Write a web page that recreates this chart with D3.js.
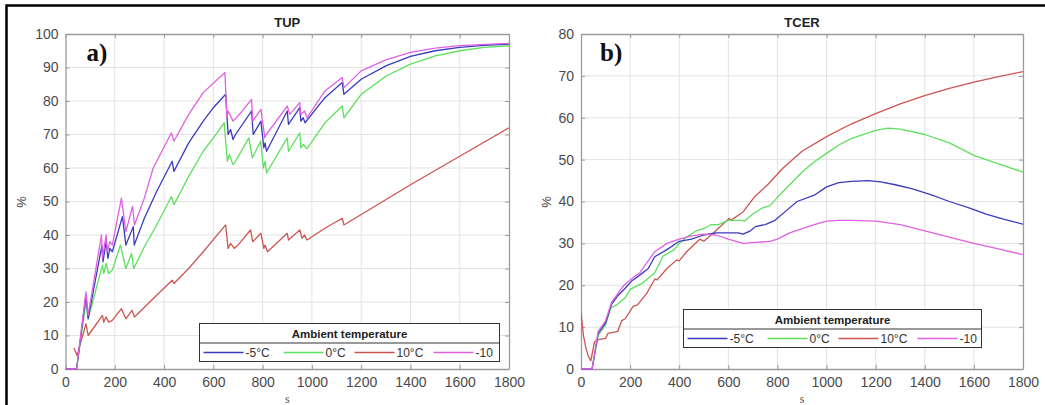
<!DOCTYPE html>
<html>
<head>
<meta charset="utf-8">
<script src="https://cdn.jsdelivr.net/npm/d3@7"></script>
<style>
  body { margin: 0; background: #fff; }
  svg { display: block; }
</style>
</head>
<body>
<script>
// series labels and colours
let seriesNames = ['-5°C', '0°C', '10°C', '-10']
let seriesColors = ['#3b3bbd', '#5ee05e', '#cc5550', '#e060e0']

let xTicks = [0, 200, 400, 600, 800, 1000, 1200, 1400, 1600, 1800]
let tupTicks = [0, 10, 20, 30, 40, 50, 60, 70, 80, 90, 100]
let tcerTicks = [0, 10, 20, 30, 40, 50, 60, 70, 80]

// TUP  [s, %]
let tupM5 = [[0,0],[45,0],[83,22],[92,15],[148,37],[152,32],[165,38],[172,33],[180,36],[190,35],[231,45.5],[245,37],[275,42.5],[279,37],[320,45],[370,53],[433,62],[440,59],[500,67.5],[559,74],[600,78],[650,82],[660,70],[670,71.5],[680,68.5],[690,70],[755,77],[762,70],[793,74],[805,66],[810,67.5],[816,65],[900,77],[905,73],[951,78],[955,74],[965,75],[972,73.5],[1053,81],[1123,85.5],[1130,82],[1200,86.5],[1300,90.5],[1400,93.3],[1500,95],[1600,96],[1700,96.6],[1800,97]]
let tup0 = [[0,0],[45,0],[83,20],[92,15],[150,31],[155,28.5],[165,31.5],[175,28.5],[190,29.5],[223,37],[245,30],[268,34.5],[277,30],[320,36.5],[370,43],[430,51.5],[440,49],[500,57.5],[559,65],[600,69],[644,73.5],[657,62],[665,64],[680,61],[690,62],[744,69],[758,63],[792,68],[803,60],[810,62],[816,58.5],[900,69],[905,65],[951,70.5],[955,66],[965,67],[980,65.8],[1053,73.5],[1123,78.5],[1130,75],[1200,82],[1300,87.4],[1400,91],[1500,93.5],[1600,95],[1700,96],[1800,96.5]]
let tup10 = [[34,6.3],[47,4],[83,13.5],[92,10],[150,16],[155,14],[165,15.5],[175,14],[190,14.5],[227,18],[245,15],[270,17.5],[280,15.5],[370,22],[433,26.5],[440,25.5],[500,30],[559,35],[650,43],[660,36],[670,37.5],[685,36],[700,37],[751,41.5],[760,38],[793,40.5],[805,36],[810,37],[820,35],[900,40.5],[905,38.5],[951,41.5],[960,39],[970,40],[980,38.5],[1053,42],[1123,45],[1130,43],[1400,55],[1600,63.5],[1800,72]]
let tupM10 = [[0,0],[45,0],[83,23],[92,16],[146,40],[150,33],[165,40],[170,35],[180,38],[190,37],[227,51],[245,41],[272,48.5],[280,43],[320,51],[356,60],[430,70.5],[440,68],[500,76],[559,82.5],[647,88.5],[655,75],[660,77],[680,74],[700,75.5],[755,80.5],[760,74],[793,77.5],[809,69],[815,70],[900,78.5],[910,76],[951,79.5],[955,76],[970,77],[980,75],[1053,83],[1123,87],[1130,84],[1200,89],[1300,92.3],[1400,94.5],[1500,95.8],[1600,96.5],[1700,96.9],[1800,97.2]]

// TCER  [s, %]
let tcerM5 = [[0,0],[45,0],[70,8.5],[100,11],[125,15.5],[150,17.5],[175,19],[206,21],[230,22],[274,24],[300,26.8],[350,28.5],[400,30.5],[450,31],[500,32],[550,32.5],[600,32.5],[640,32.5],[660,32.2],[690,33],[710,34],[750,34.5],[790,35.5],[840,38],[880,40],[950,41.5],[1000,43.5],[1050,44.5],[1100,44.8],[1170,45],[1220,44.7],[1280,44],[1350,43],[1430,41.5],[1500,40],[1580,38.5],[1650,37],[1720,35.8],[1800,34.6]]
let tcer0 = [[0,0],[45,0],[70,8],[100,10.5],[120,14.5],[150,15.5],[180,17],[200,19],[250,20.5],[300,23],[335,27],[380,28.5],[400,30],[430,31.5],[470,33],[500,33.5],[530,34.5],[560,34.5],[600,35.5],[650,35.5],[665,35.3],[700,37],[740,38.5],[770,39],[800,41],[850,44],[900,47],[950,49.5],[1000,51.5],[1050,53.5],[1100,55],[1200,57],[1250,57.5],[1300,57.3],[1400,56],[1500,54],[1600,51],[1700,49],[1800,47]]
let tcer10 = [[0,13.5],[10,8],[20,5],[30,3],[40,2],[45,3.5],[55,6.5],[70,7],[100,7.3],[110,8.5],[150,9],[165,11.5],[180,12],[213,15],[230,15.3],[267,18],[301,21.5],[310,21.3],[350,24],[389,26],[400,25.8],[430,28],[484,31],[500,30.5],[530,32],[604,36],[610,35.5],[660,37.5],[705,41],[760,44],[823,48],[900,52],[1000,55.5],[1100,58.5],[1200,61],[1300,63.3],[1400,65.3],[1500,67],[1600,68.5],[1700,69.8],[1800,71]]
let tcerM10 = [[0,0],[45,0],[70,9],[100,11.5],[125,16],[150,18],[175,20],[215,22],[240,23],[270,25.5],[300,28],[350,30],[400,31],[450,31.8],[500,32.2],[550,32],[600,31],[660,30],[700,30.2],[770,30.5],[800,31],[850,32.5],[900,33.5],[950,34.5],[1000,35.3],[1050,35.5],[1100,35.5],[1200,35.3],[1300,34.5],[1400,33],[1500,31.5],[1600,30],[1700,28.7],[1800,27.3]]

let W = 1045, H = 405
let svg = d3.select('body').append('svg')
    .attr('width', W)
    .attr('height', H)

// outer frame (top + left edge)
svg.append('path')
    .attr('d', 'M6.5,405 L6.5,5.5 L1045,5.5')
    .attr('fill', 'none')
    .attr('stroke', '#000')
    .attr('stroke-width', 2.5)

function drawPanel(cfg) {
    let x = d3.scaleLinear().domain([0, 1800]).range([cfg.left, cfg.right])
    let y = d3.scaleLinear().domain([0, cfg.ymax]).range([369, 34])
    let g = svg.append('g')

    // grid
    g.selectAll('.gx').data(xTicks.slice(1, -1)).enter().append('line')
        .attr('x1', d => x(d)).attr('x2', d => x(d))
        .attr('y1', y(0)).attr('y2', y(cfg.ymax))
        .attr('stroke', '#e3e3e3').attr('stroke-width', 1)
    g.selectAll('.gy').data(cfg.yTicks.slice(1, -1)).enter().append('line')
        .attr('x1', x(0)).attr('x2', x(1800))
        .attr('y1', d => y(d)).attr('y2', d => y(d))
        .attr('stroke', '#e3e3e3').attr('stroke-width', 1)

    // axes (ticks inside, box on)
    let fmt = d3.format('d')
    let axB = g.append('g').attr('transform', 'translate(0,' + y(0) + ')')
        .call(d3.axisBottom(x).tickValues(xTicks).tickSizeInner(-4).tickSizeOuter(0).tickPadding(8).tickFormat(fmt))
    let axT = g.append('g').attr('transform', 'translate(0,' + y(cfg.ymax) + ')')
        .call(d3.axisTop(x).tickValues(xTicks).tickSizeInner(-4).tickSizeOuter(0).tickFormat(''))
    let axL = g.append('g').attr('transform', 'translate(' + x(0) + ',0)')
        .call(d3.axisLeft(y).tickValues(cfg.yTicks).tickSizeInner(-4).tickSizeOuter(0).tickPadding(7).tickFormat(fmt))
    let axR = g.append('g').attr('transform', 'translate(' + x(1800) + ',0)')
        .call(d3.axisRight(y).tickValues(cfg.yTicks).tickSizeInner(-4).tickSizeOuter(0).tickFormat(''))
    ;[axB, axT, axL, axR].forEach(a => {
        a.select('.domain').attr('stroke', '#9a9a9a').attr('stroke-width', 1.3)
        a.selectAll('.tick line').attr('stroke', '#9a9a9a')
        a.selectAll('text').attr('font-family', 'Liberation Sans, Arial, sans-serif')
            .attr('font-size', 14).attr('fill', '#4a4a4a')
    })

    // lines
    let clipId = 'clip' + cfg.left
    svg.append('clipPath').attr('id', clipId).append('rect')
        .attr('x', x(0)).attr('y', y(cfg.ymax) - 2)
        .attr('width', x(1800) - x(0)).attr('height', y(0) - y(cfg.ymax) + 3)
    let line = d3.line().x(d => x(d[0])).y(d => y(d[1]))
    g.append('g').attr('clip-path', 'url(#' + clipId + ')')
        .selectAll('path').data(cfg.series).enter().append('path')
        .attr('d', line)
        .attr('fill', 'none')
        .attr('stroke', (d, i) => seriesColors[cfg.order[i]])
        .attr('stroke-width', 1.3)
        .attr('stroke-linejoin', 'round')

    // title
    g.append('text').attr('x', (cfg.left + cfg.right) / 2).attr('y', 27)
        .attr('text-anchor', 'middle')
        .attr('font-family', 'Liberation Sans, Arial, sans-serif')
        .attr('font-weight', 'bold').attr('font-size', 13).attr('fill', '#222')
        .text(cfg.title)
    // panel letter
    g.append('text').attr('x', cfg.left + cfg.letterDx).attr('y', 61)
        .attr('font-family', 'Liberation Serif, Times New Roman, serif')
        .attr('font-weight', 'bold').attr('font-size', 25).attr('fill', '#111')
        .text(cfg.letter)
    // axis labels
    g.append('text').attr('x', (cfg.left + cfg.right) / 2).attr('y', 403)
        .attr('text-anchor', 'middle')
        .attr('font-family', 'Liberation Serif, serif')
        .attr('font-size', 12).attr('fill', '#555')
        .text('s')
    g.append('text')
        .attr('transform', 'translate(' + (cfg.left - cfg.pctDx) + ',202) rotate(-90)')
        .attr('text-anchor', 'middle')
        .attr('font-family', 'Liberation Sans, Arial, sans-serif')
        .attr('font-size', 13).attr('fill', '#444')
        .text('%')

    // legend
    let lg = g.append('g').attr('transform', 'translate(' + cfg.legX + ',' + cfg.legY + ')')
    lg.append('rect').attr('width', cfg.legW).attr('height', 38)
        .attr('fill', '#fff').attr('stroke', '#333').attr('stroke-width', 1)
    lg.append('line').attr('x1', 0).attr('x2', cfg.legW).attr('y1', 19.5).attr('y2', 19.5)
        .attr('stroke', '#333').attr('stroke-width', 1)
    lg.append('text').attr('x', cfg.legW / 2).attr('y', 14.5)
        .attr('text-anchor', 'middle')
        .attr('font-family', 'Liberation Sans, Arial, sans-serif')
        .attr('font-weight', 'bold').attr('font-size', 11.5).attr('fill', '#222')
        .text('Ambient temperature')
    let offs = [4, 84, 155, 234]
    seriesNames.forEach((name, i) => {
        lg.append('line').attr('x1', offs[i]).attr('x2', offs[i] + 40)
            .attr('y1', 29).attr('y2', 29)
            .attr('stroke', seriesColors[i]).attr('stroke-width', 1.3)
        lg.append('text').attr('x', offs[i] + 42).attr('y', 33.5)
            .attr('font-family', 'Liberation Sans, Arial, sans-serif')
            .attr('font-size', 12).attr('fill', '#333')
            .text(name)
    })
}

drawPanel({
    left: 65.5, right: 509, ymax: 100, yTicks: tupTicks, title: 'TUP', letter: 'a)', letterDx: 21,
    series: [tup10, tup0, tupM5, tupM10], order: [2, 1, 0, 3], pctDx: 40,
    legX: 199.5, legY: 323.5, legW: 300
})
drawPanel({
    left: 581, right: 1023, ymax: 80, yTicks: tcerTicks, title: 'TCER', letter: 'b)', letterDx: 19,
    series: [tcer10, tcer0, tcerM5, tcerM10], order: [2, 1, 0, 3], pctDx: 30,
    legX: 683.5, legY: 309.5, legW: 298
})
</script>
</body>
</html>
